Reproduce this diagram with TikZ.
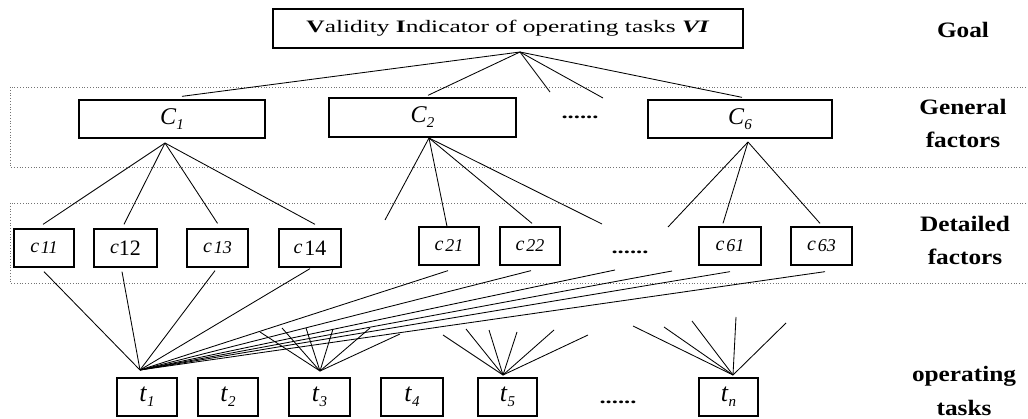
\documentclass[tikz,border=0pt]{standalone}
\usepackage{fontspec}
\setmainfont{Liberation Serif}[FakeStretch=1.45]
\newfontfamily\lbl{Liberation Serif}
\newfontfamily\sidef{Liberation Serif}[FakeStretch=1.15]
\newcommand\mysub[1]{\raisebox{-5pt}{\fontsize{15}{15}\selectfont\textit{#1}}}
\newcommand\smc{\raisebox{1.5pt}{\fontsize{20}{20}\selectfont\textit{c}}}
\newcommand\cit[1]{{\fontsize{18}{18}\selectfont\textit{#1}}}
\newcommand\cupr[1]{{\fontsize{22}{22}\selectfont #1}}
\begin{document}
\begin{tikzpicture}[x=1pt,y=-1pt,
  box/.style={draw,line width=1.3pt,inner sep=0pt,minimum height=38pt},
  bigl/.style={font=\lbl\fontsize{24}{24}\selectfont},
  tl/.style={font=\lbl\fontsize{26}{26}\selectfont},
  cl/.style={font=\lbl},
  con/.style={line width=0.85pt},
  zone/.style={draw=black!55,dotted,line width=0.8pt},
  side/.style={font=\sidef\fontsize{22}{22}\selectfont\bfseries,anchor=base,inner sep=0pt},
  dotsl/.style={font=\fontsize{17}{17}\selectfont\bfseries,inner sep=0pt}]
\useasboundingbox (0,0) rectangle (1028,419);
% zones
\draw[zone] (10,87) rectangle (1040,167);
\draw[zone] (10,203) rectangle (1040,283);
% goal
\node[box,minimum width=470pt,minimum height=39pt,font=\fontsize{17.5}{17.5}\selectfont] (goal) at (508,28.5)
  {\textbf{V}alidity \textbf{I}ndicator of operating tasks \textbf{\textit{VI}}};
% general factors
\node[box,bigl,minimum width=186pt] (C1) at (172,119) {\textit{C}\mysub{1}};
\node[box,bigl,minimum width=187pt,minimum height=39pt] (C2) at (422.5,117.5) {\textit{C}\mysub{2}};
\node[box,bigl,minimum width=184pt] (C6) at (740,119) {\textit{C}\mysub{6}};
\node[dotsl] (d1) at (580,117) {......};
% detailed factors
\node[box,cl,minimum width=60pt] (c11) at (44,248) {\smc\,\cit{11}};
\node[box,cl,minimum width=63pt] (c12) at (125.5,248) {\smc\cupr{12}};
\node[box,cl,minimum width=61pt] (c13) at (217.5,248) {\smc\,\cit{13}};
\node[box,cl,minimum width=62pt] (c14) at (310,248) {\smc\,\cupr{14}};
\node[box,cl,minimum width=60pt] (c21) at (449,246) {\smc\,\cit{21}};
\node[box,cl,minimum width=60pt] (c22) at (530,246) {\smc\,\cit{22}};
\node[dotsl] (d2) at (630,252) {......};
\node[box,cl,minimum width=62pt] (c61) at (730,246) {\smc\,\cit{61}};
\node[box,cl,minimum width=61pt] (c63) at (821.5,246) {\smc\,\cit{63}};
% tasks
\node[box,tl,minimum width=60pt] (t1) at (147,397) {\textit{t}\mysub{1}};
\node[box,tl,minimum width=60pt] (t2) at (228,397) {\textit{t}\mysub{2}};
\node[box,tl,minimum width=61pt] (t3) at (319.5,397) {\textit{t}\mysub{3}};
\node[box,tl,minimum width=62pt] (t4) at (412,397) {\textit{t}\mysub{4}};
\node[box,tl,minimum width=59pt] (t5) at (507.5,397) {\textit{t}\mysub{5}};
\node[dotsl] (d3) at (618,402) {......};
\node[box,tl,minimum width=59pt] (tn) at (728.5,397) {\textit{t}\mysub{n}};
% side labels
\node[side] (sG) at (963,38) {Goal};
\node[side] (sGF1) at (963,115) {General};
\node[side] (sGF2) at (963,148) {factors};
\node[side] (sDF1) at (965,232) {Detailed};
\node[side] (sDF2) at (965,265) {factors};
\node[side] (sOT1) at (964,382) {operating};
\node[side] (sOT2) at (964,416) {tasks};
% apex and free-end coordinates
\coordinate (gA) at (520,52);
\coordinate (C1a) at (165,143);
\coordinate (C2a) at (429,138);
\coordinate (C6a) at (748,142);
\coordinate (t1a) at (140,370);
\coordinate (t3a) at (320,371);
\coordinate (t5a) at (503,375);
\coordinate (tna) at (733,375);
\coordinate (g3) at (550,92);
\coordinate (g4) at (603,98);
\coordinate (c2f1) at (385,220);
\coordinate (c2f2) at (602,224);
\coordinate (c6f1) at (668,227);
\coordinate (tf1) at (615,270);
\coordinate (tf2) at (672,271);
\coordinate (t3f1) at (260,332);
\coordinate (t3f2) at (282,328);
\coordinate (t3f3) at (306,328);
\coordinate (t3f4) at (333,329);
\coordinate (t3f5) at (370,328);
\coordinate (t3f6) at (400,334);
\coordinate (t5f1) at (443,335);
\coordinate (t5f2) at (466,329);
\coordinate (t5f3) at (489,330);
\coordinate (t5f4) at (517,332);
\coordinate (t5f5) at (554,330);
\coordinate (t5f6) at (588,335);
\coordinate (tnf1) at (633,326);
\coordinate (tnf2) at (664,327);
\coordinate (tnf3) at (692,321);
\coordinate (tnf4) at (736,317);
\coordinate (tnf5) at (786,323);
% goal connectors
\draw[con] (gA) -- ([shift={(10,-3)}]C1.north);
\draw[con] (gA) -- ([shift={(5.5,-2)}]C2.north);
\draw[con] (gA) -- (g3);
\draw[con] (gA) -- (g4);
\draw[con] (gA) -- ([shift={(2,-2)}]C6.north);
% C1
\draw[con] (C1a) -- ([shift={(-1,-4)}]c11.north);
\draw[con] (C1a) -- ([shift={(-1.5,-4)}]c12.north);
\draw[con] (C1a) -- ([shift={(0,-5)}]c13.north);
\draw[con] (C1a) -- ([shift={(5,-4)}]c14.north);
% C2
\draw[con] (C2a) -- (c2f1);
\draw[con] (C2a) -- ([shift={(-2,0)}]c21.north);
\draw[con] (C2a) -- ([shift={(2,-3)}]c22.north);
\draw[con] (C2a) -- (c2f2);
% C6
\draw[con] (C6a) -- (c6f1);
\draw[con] (C6a) -- ([shift={(-7,-3)}]c61.north);
\draw[con] (C6a) -- ([shift={(-1.5,-3)}]c63.north);
% t1
\draw[con] (t1a) -- ([shift={(0,4)}]c11.south);
\draw[con] (t1a) -- ([shift={(-3.5,4)}]c12.south);
\draw[con] (t1a) -- ([shift={(-2.5,3)}]c13.south);
\draw[con] (t1a) -- ([shift={(0,1)}]c14.south);
\draw[con] (t1a) -- ([shift={(-1,5)}]c21.south);
\draw[con] (t1a) -- ([shift={(1,5)}]c22.south);
\draw[con] (t1a) -- (tf1);
\draw[con] (t1a) -- (tf2);
\draw[con] (t1a) -- ([shift={(0,6)}]c61.south);
\draw[con] (t1a) -- ([shift={(3.5,6)}]c63.south);
% t3 fan
\draw[con] (t3a) -- (t3f1);
\draw[con] (t3a) -- (t3f2);
\draw[con] (t3a) -- (t3f3);
\draw[con] (t3a) -- (t3f4);
\draw[con] (t3a) -- (t3f5);
\draw[con] (t3a) -- (t3f6);
% t5 fan
\draw[con] (t5a) -- (t5f1);
\draw[con] (t5a) -- (t5f2);
\draw[con] (t5a) -- (t5f3);
\draw[con] (t5a) -- (t5f4);
\draw[con] (t5a) -- (t5f5);
\draw[con] (t5a) -- (t5f6);
% tn fan
\draw[con] (tna) -- (tnf1);
\draw[con] (tna) -- (tnf2);
\draw[con] (tna) -- (tnf3);
\draw[con] (tna) -- (tnf4);
\draw[con] (tna) -- (tnf5);
\end{tikzpicture}
\end{document}
